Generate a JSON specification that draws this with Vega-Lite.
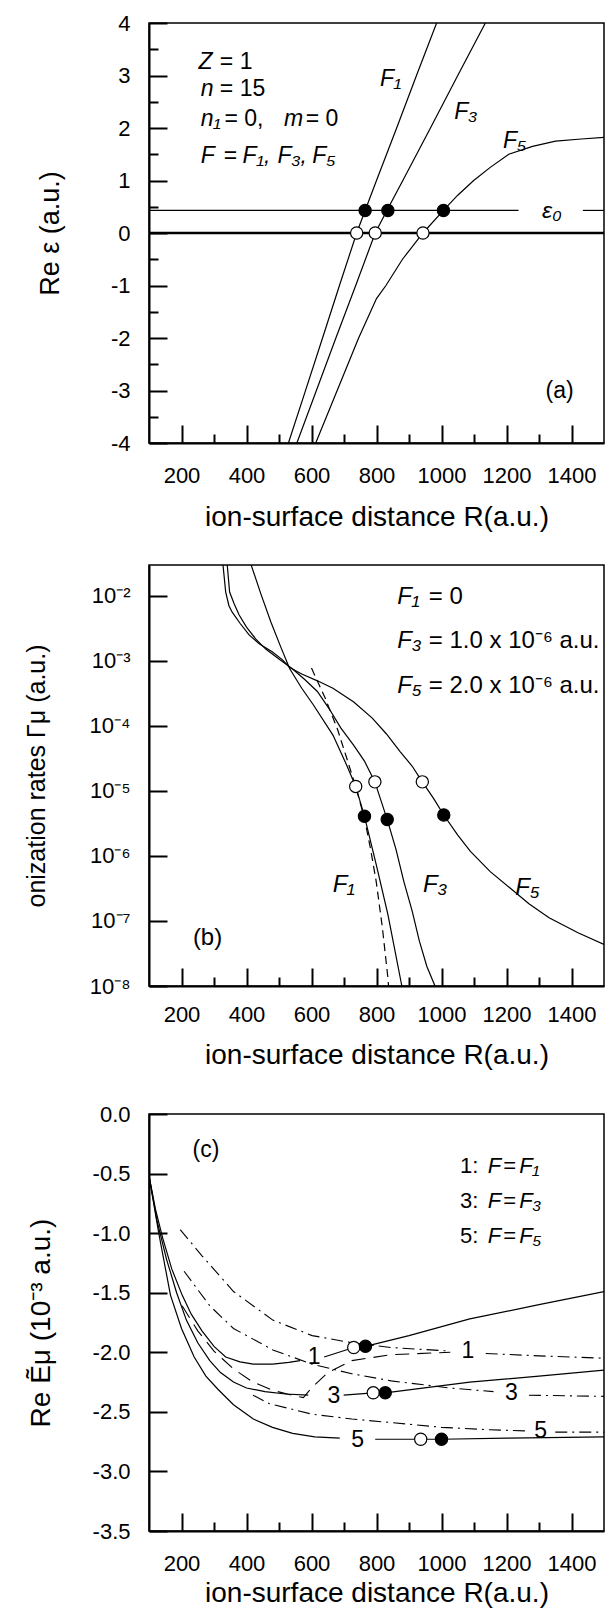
{
"$schema":"https://vega.github.io/schema/vega-lite/v6.json",
"padding":{"left":23,"top":11,"right":0,"bottom":0},
"spacing":32,
"config":{"font":"Liberation Sans","view":{"stroke":"black","strokeWidth":1.5},
"axis":{"domainColor":"black","domainWidth":2,"tickColor":"black","tickWidth":2,"labelColor":"black","titleColor":"black","labelFontSize":22,"titleFontSize":28,"titleFontWeight":"normal","grid":false,"labelFlush":false,"labelOverlap":false,"labelFont":"Liberation Sans","titleFont":"Liberation Sans"}},
"datasets":{
"a_curves":[
{"c":"F1","R":529,"v":-4},{"c":"F1","R":580,"v":-3.03},{"c":"F1","R":634,"v":-2},{"c":"F1","R":686,"v":-1},{"c":"F1","R":739,"v":0},{"c":"F1","R":765,"v":0.43},{"c":"F1","R":800,"v":1},{"c":"F1","R":862,"v":2},{"c":"F1","R":923,"v":3},{"c":"F1","R":985,"v":4},
{"c":"F3","R":555,"v":-4},{"c":"F3","R":615,"v":-3},{"c":"F3","R":675,"v":-2},{"c":"F3","R":736,"v":-1},{"c":"F3","R":796,"v":0},{"c":"F3","R":832,"v":0.43},{"c":"F3","R":881,"v":1},{"c":"F3","R":966,"v":2},{"c":"F3","R":1050,"v":3},{"c":"F3","R":1135,"v":4},
{"c":"F5","R":613,"v":-4},{"c":"F5","R":679,"v":-3},{"c":"F5","R":745,"v":-2},{"c":"F5","R":800,"v":-1.25},{"c":"F5","R":829,"v":-1},{"c":"F5","R":880,"v":-0.5},{"c":"F5","R":943,"v":0},{"c":"F5","R":1006,"v":0.43},{"c":"F5","R":1050,"v":0.72},{"c":"F5","R":1099,"v":1},{"c":"F5","R":1150,"v":1.25},{"c":"F5","R":1207,"v":1.5},{"c":"F5","R":1280,"v":1.65},{"c":"F5","R":1351,"v":1.75},{"c":"F5","R":1430,"v":1.79},{"c":"F5","R":1500,"v":1.82},
{"c":"e1","R":100,"v":0.43},{"c":"e1","R":1237,"v":0.43},{"c":"e2","R":1435,"v":0.43},{"c":"e2","R":1500,"v":0.43}
],
"a_zero":[{"c":"z","R":100,"v":0},{"c":"z","R":1500,"v":0}],
"a_pts":[{"R":739,"v":0,"f":"o"},{"R":796,"v":0,"f":"o"},{"R":943,"v":0,"f":"o"},{"R":765,"v":0.43,"f":"f"},{"R":835,"v":0.43,"f":"f"},{"R":1006,"v":0.43,"f":"f"}],
"a_ti":[{"R":252,"v":3.25,"t":"Z"},{"R":259,"v":2.74,"t":"n"},{"R":259,"v":2.18,"t":"n₁"},{"R":515,"v":2.18,"t":"m"},{"R":259,"v":1.46,"t":"F"},{"R":388,"v":1.46,"t":"F₁,"},{"R":495,"v":1.46,"t":"F₃,"},{"R":602,"v":1.46,"t":"F₅"},{"R":811,"v":2.93,"t":"F₁"},{"R":1039,"v":2.31,"t":"F₃"},{"R":1189,"v":1.76,"t":"F₅"},{"R":1309,"v":0.42,"t":"ε₀"}],
"a_tu":[{"R":318,"v":3.25,"t":"= 1"},{"R":318,"v":2.74,"t":"= 15"},{"R":332,"v":2.18,"t":"= 0,"},{"R":582,"v":2.18,"t":"= 0"},{"R":330,"v":1.46,"t":"="},{"R":1320,"v":-3.0,"t":"(a)"}],
"b_curves":[
{"c":"F1","R":405,"g":0.0398},{"c":"F1","R":414,"g":0.0302},{"c":"F1","R":445,"g":0.01047},{"c":"F1","R":475,"g":0.00398},{"c":"F1","R":505,"g":0.00166},{"c":"F1","R":533,"g":0.000759},{"c":"F1","R":570,"g":0.00038},{"c":"F1","R":605,"g":0.000214},{"c":"F1","R":666,"g":7.24e-5},{"c":"F1","R":708,"g":2.51e-5},{"c":"F1","R":736,"g":1.175e-5},{"c":"F1","R":763,"g":4.07e-6},{"c":"F1","R":799,"g":7.41e-7},{"c":"F1","R":835,"g":1.26e-7},{"c":"F1","R":878,"g":1e-8},{"c":"F1","R":885,"g":6.31e-9},
{"c":"F3","R":339,"g":0.0398},{"c":"F3","R":341,"g":0.0288},{"c":"F3","R":348,"g":0.01148},{"c":"F3","R":362,"g":0.00759},{"c":"F3","R":377,"g":0.00513},{"c":"F3","R":400,"g":0.00331},{"c":"F3","R":428,"g":0.00219},{"c":"F3","R":460,"g":0.00151},{"c":"F3","R":500,"g":0.00107},{"c":"F3","R":541,"g":0.000759},{"c":"F3","R":580,"g":0.000513},{"c":"F3","R":618,"g":0.000339},{"c":"F3","R":655,"g":0.000182},{"c":"F3","R":690,"g":9.33e-5},{"c":"F3","R":730,"g":5.01e-5},{"c":"F3","R":763,"g":2.88e-5},{"c":"F3","R":795,"g":1.38e-5},{"c":"F3","R":833,"g":3.63e-6},{"c":"F3","R":860,"g":1.26e-6},{"c":"F3","R":884,"g":4.07e-7},{"c":"F3","R":910,"g":1.41e-7},{"c":"F3","R":932,"g":4.9e-8},{"c":"F3","R":955,"g":2e-8},{"c":"F3","R":980,"g":1e-8},{"c":"F3","R":990,"g":6.31e-9},
{"c":"F5","R":326,"g":0.0398},{"c":"F5","R":328,"g":0.0288},{"c":"F5","R":336,"g":0.01148},{"c":"F5","R":346,"g":0.00708},{"c":"F5","R":356,"g":0.00562},{"c":"F5","R":380,"g":0.0038},{"c":"F5","R":408,"g":0.00251},{"c":"F5","R":440,"g":0.00182},{"c":"F5","R":479,"g":0.00138},{"c":"F5","R":510,"g":0.001047},{"c":"F5","R":533,"g":0.000794},{"c":"F5","R":570,"g":0.000631},{"c":"F5","R":620,"g":0.00049},{"c":"F5","R":666,"g":0.00038},{"c":"F5","R":730,"g":0.000234},{"c":"F5","R":787,"g":0.000132},{"c":"F5","R":830,"g":7.59e-5},{"c":"F5","R":872,"g":4.07e-5},{"c":"F5","R":910,"g":2.4e-5},{"c":"F5","R":941,"g":1.38e-5},{"c":"F5","R":975,"g":7.76e-6},{"c":"F5","R":1007,"g":4.27e-6},{"c":"F5","R":1050,"g":2.09e-6},{"c":"F5","R":1089,"g":1.175e-6},{"c":"F5","R":1150,"g":5.75e-7},{"c":"F5","R":1210,"g":3.24e-7},{"c":"F5","R":1270,"g":1.82e-7},{"c":"F5","R":1331,"g":1.12e-7},{"c":"F5","R":1420,"g":6.61e-8},{"c":"F5","R":1500,"g":4.37e-8}
],
"b_dash":[{"c":"d","R":600,"g":0.000776},{"c":"d","R":642,"g":0.000269},{"c":"d","R":680,"g":8.91e-5},{"c":"d","R":708,"g":3.24e-5},{"c":"d","R":737,"g":1.12e-5},{"c":"d","R":763,"g":3.8e-6},{"c":"d","R":782,"g":1.26e-6},{"c":"d","R":799,"g":4.07e-7},{"c":"d","R":818,"g":7.94e-8},{"c":"d","R":835,"g":1.35e-8},{"c":"d","R":840,"g":6.31e-9}],
"b_pts":[{"R":736,"g":1.175e-5,"f":"o"},{"R":795,"g":1.38e-5,"f":"o"},{"R":941,"g":1.38e-5,"f":"o"},{"R":763,"g":4.07e-6,"f":"f"},{"R":833,"g":3.63e-6,"f":"f"},{"R":1007,"g":4.27e-6,"f":"f"}],
"b_ti":[{"R":864,"g":0.00977,"t":"F₁"},{"R":864,"g":0.002,"t":"F₃"},{"R":864,"g":0.000407,"t":"F₅"},{"R":665,"g":3.63e-7,"t":"F₁"},{"R":943,"g":3.63e-7,"t":"F₃"},{"R":1227,"g":3.24e-7,"t":"F₅"}],
"b_tu":[{"R":961,"g":0.00977,"t":"= 0"},{"R":961,"g":0.002,"t":"= 1.0 x 10⁻⁶ a.u."},{"R":961,"g":0.000407,"t":"= 2.0 x 10⁻⁶ a.u."},{"R":235,"g":5.5e-8,"t":"(b)"}],
"c_solid":[
{"c":"s1a","R":100,"v":-0.52},{"c":"s1a","R":120,"v":-0.8},{"c":"s1a","R":142,"v":-1.04},{"c":"s1a","R":170,"v":-1.3},{"c":"s1a","R":202,"v":-1.52},{"c":"s1a","R":230,"v":-1.68},{"c":"s1a","R":263,"v":-1.82},{"c":"s1a","R":300,"v":-1.95},{"c":"s1a","R":336,"v":-2.04},{"c":"s1a","R":380,"v":-2.08},{"c":"s1a","R":421,"v":-2.1},{"c":"s1a","R":481,"v":-2.1},{"c":"s1a","R":530,"v":-2.085},{"c":"s1a","R":565,"v":-2.07},
{"c":"s1b","R":639,"v":-2.04},{"c":"s1b","R":730,"v":-1.96},{"c":"s1b","R":766,"v":-1.95},{"c":"s1b","R":900,"v":-1.86},{"c":"s1b","R":1087,"v":-1.72},{"c":"s1b","R":1300,"v":-1.6},{"c":"s1b","R":1500,"v":-1.49},
{"c":"s3a","R":100,"v":-0.52},{"c":"s3a","R":125,"v":-0.9},{"c":"s3a","R":154,"v":-1.22},{"c":"s3a","R":185,"v":-1.5},{"c":"s3a","R":215,"v":-1.73},{"c":"s3a","R":250,"v":-1.92},{"c":"s3a","R":287,"v":-2.07},{"c":"s3a","R":320,"v":-2.17},{"c":"s3a","R":360,"v":-2.25},{"c":"s3a","R":400,"v":-2.3},{"c":"s3a","R":457,"v":-2.33},{"c":"s3a","R":520,"v":-2.35},{"c":"s3a","R":590,"v":-2.36},
{"c":"s3b","R":699,"v":-2.36},{"c":"s3b","R":790,"v":-2.34},{"c":"s3b","R":827,"v":-2.34},{"c":"s3b","R":1087,"v":-2.25},{"c":"s3b","R":1300,"v":-2.2},{"c":"s3b","R":1500,"v":-2.15},
{"c":"s5a","R":100,"v":-0.52},{"c":"s5a","R":130,"v":-1.0},{"c":"s5a","R":166,"v":-1.52},{"c":"s5a","R":200,"v":-1.8},{"c":"s5a","R":239,"v":-2.04},{"c":"s5a","R":275,"v":-2.2},{"c":"s5a","R":312,"v":-2.31},{"c":"s5a","R":360,"v":-2.44},{"c":"s5a","R":421,"v":-2.56},{"c":"s5a","R":480,"v":-2.63},{"c":"s5a","R":542,"v":-2.68},{"c":"s5a","R":610,"v":-2.71},{"c":"s5a","R":687,"v":-2.72},
{"c":"s5b","R":796,"v":-2.73},{"c":"s5b","R":936,"v":-2.73},{"c":"s5b","R":1000,"v":-2.73},{"c":"s5b","R":1200,"v":-2.72},{"c":"s5b","R":1500,"v":-2.71}
],
"c_dd":[
{"c":"d1a","R":196,"v":-0.97},{"c":"d1a","R":263,"v":-1.19},{"c":"d1a","R":360,"v":-1.49},{"c":"d1a","R":481,"v":-1.73},{"c":"d1a","R":602,"v":-1.86},{"c":"d1a","R":724,"v":-1.92},{"c":"d1a","R":845,"v":-1.96},{"c":"d1a","R":1027,"v":-1.99},
{"c":"d1b","R":1136,"v":-2.01},{"c":"d1b","R":1300,"v":-2.03},{"c":"d1b","R":1500,"v":-2.05},
{"c":"d3a","R":208,"v":-1.32},{"c":"d3a","R":287,"v":-1.61},{"c":"d3a","R":360,"v":-1.8},{"c":"d3a","R":481,"v":-1.98},{"c":"d3a","R":602,"v":-2.1},{"c":"d3a","R":724,"v":-2.18},{"c":"d3a","R":845,"v":-2.24},{"c":"d3a","R":1027,"v":-2.3},{"c":"d3a","R":1160,"v":-2.33},
{"c":"d3b","R":1269,"v":-2.36},{"c":"d3b","R":1500,"v":-2.37},
{"c":"d5a","R":420,"v":-2.36},{"c":"d5a","R":469,"v":-2.43},{"c":"d5a","R":602,"v":-2.52},{"c":"d5a","R":724,"v":-2.56},{"c":"d5a","R":845,"v":-2.59},{"c":"d5a","R":1000,"v":-2.63},{"c":"d5a","R":1148,"v":-2.65},{"c":"d5a","R":1260,"v":-2.66},
{"c":"d5b","R":1350,"v":-2.67},{"c":"d5b","R":1500,"v":-2.67}
],
"c_dash":[
{"c":"k","R":202,"v":-1.61},{"c":"k","R":250,"v":-1.82},{"c":"k","R":300,"v":-1.99},{"c":"k","R":360,"v":-2.14},{"c":"k","R":420,"v":-2.25},{"c":"k","R":481,"v":-2.32},{"c":"k","R":540,"v":-2.36},{"c":"k","R":575,"v":-2.38},{"c":"k","R":600,"v":-2.3},{"c":"k","R":650,"v":-2.17},{"c":"k","R":724,"v":-2.07},{"c":"k","R":845,"v":-2.02},{"c":"k","R":1027,"v":-2.0}
],
"c_pts":[{"R":730,"v":-1.96,"f":"o"},{"R":790,"v":-2.34,"f":"o"},{"R":936,"v":-2.73,"f":"o"},{"R":766,"v":-1.95,"f":"f"},{"R":827,"v":-2.34,"f":"f"},{"R":1000,"v":-2.73,"f":"f"}],
"c_tu":[{"R":608,"v":-2.04,"t":"1"},{"R":669,"v":-2.37,"t":"3"},{"R":742,"v":-2.74,"t":"5"},{"R":1081,"v":-1.99,"t":"1"},{"R":1215,"v":-2.34,"t":"3"},{"R":1305,"v":-2.66,"t":"5"},{"R":275,"v":-0.3,"t":"(c)"}],
"c_leg":[{"R":1057,"v":-0.44,"t":"1:"},{"R":1057,"v":-0.73,"t":"3:"},{"R":1057,"v":-1.02,"t":"5:"}],
"c_legi":[{"R":1142,"v":-0.44,"t":"F"},{"R":1142,"v":-0.73,"t":"F"},{"R":1142,"v":-1.02,"t":"F"},{"R":1239,"v":-0.44,"t":"F₁"},{"R":1239,"v":-0.73,"t":"F₃"},{"R":1239,"v":-1.02,"t":"F₅"}],
"c_legu":[{"R":1190,"v":-0.44,"t":"="},{"R":1190,"v":-0.73,"t":"="},{"R":1190,"v":-1.02,"t":"="}]
},
"vconcat":[
{"width":455,"height":420,
"encoding":{
"x":{"field":"R","type":"quantitative","scale":{"domain":[100,1500],"nice":false,"zero":false},
"axis":{"values":[200,300,400,500,600,700,800,900,1000,1100,1200,1300,1400],"format":"d","tickSize":{"condition":{"test":"datum.value % 200 === 0","value":-18},"value":-9},"labelExpr":"datum.value % 200 === 0 ? datum.label : ''","labelPadding":40,"title":"ion-surface distance  R(a.u.)","titlePadding":8}},
"y":{"field":"v","type":"quantitative","scale":{"domain":[-4,4],"nice":false,"zero":false},
"axis":{"values":[-4,-3.5,-3,-2.5,-2,-1.5,-1,-0.5,0,0.5,1,1.5,2,2.5,3,3.5,4],"tickSize":{"condition":{"test":"datum.value % 1 === 0","value":-18},"value":-9},"labelExpr":"datum.value % 1 === 0 ? replace(format(datum.value,'d'),'−','-') : ''","labelPadding":37,"title":"Re ε (a.u.)","titleFontSize":27,"titleX":-85}}},
"layer":[
{"data":{"name":"a_curves"},"mark":{"type":"line","color":"black","strokeWidth":1.2,"clip":true},"encoding":{"detail":{"field":"c"}}},
{"data":{"name":"a_zero"},"mark":{"type":"line","color":"black","strokeWidth":2.6,"clip":true},"encoding":{"detail":{"field":"c"}}},
{"data":{"name":"a_pts"},"mark":{"type":"point","shape":"circle","size":150,"stroke":"black","strokeWidth":1.2,"opacity":1,"filled":false},"encoding":{"fill":{"field":"f","type":"nominal","scale":{"domain":["o","f"],"range":["white","black"]},"legend":null}}},
{"data":{"name":"a_ti"},"mark":{"type":"text","align":"left","baseline":"middle","fontSize":23,"fontStyle":"italic","color":"black"},"encoding":{"text":{"field":"t"}}},
{"data":{"name":"a_tu"},"mark":{"type":"text","align":"left","baseline":"middle","fontSize":23,"color":"black"},"encoding":{"text":{"field":"t"}}}
]},
{"width":455,"height":421,
"encoding":{
"x":{"field":"R","type":"quantitative","scale":{"domain":[100,1500],"nice":false,"zero":false},
"axis":{"values":[200,300,400,500,600,700,800,900,1000,1100,1200,1300,1400],"format":"d","tickSize":{"condition":{"test":"datum.value % 200 === 0","value":-18},"value":-9},"labelExpr":"datum.value % 200 === 0 ? datum.label : ''","labelPadding":36,"title":"ion-surface distance  R(a.u.)","titlePadding":7}},
"y":{"field":"g","type":"quantitative","scale":{"type":"log","domain":[1e-8,0.0299],"nice":false},
"axis":{"values":[1e-8,1e-7,1e-6,1e-5,1e-4,1e-3,1e-2],"tickSize":-18,"labelExpr":"'10' + ['⁰','⁻¹','⁻²','⁻³','⁻⁴','⁻⁵','⁻⁶','⁻⁷','⁻⁸'][-round(log(datum.value)/LN10)]","labelPadding":37,"title":"onization rates Γμ (a.u.)","titleFontSize":25,"titleX":-100}}},
"layer":[
{"data":{"name":"b_curves"},"mark":{"type":"line","color":"black","strokeWidth":1.2,"clip":true},"encoding":{"detail":{"field":"c"}}},
{"data":{"name":"b_dash"},"mark":{"type":"line","color":"black","strokeWidth":1.2,"strokeDash":[8,5],"clip":true},"encoding":{"detail":{"field":"c"}}},
{"data":{"name":"b_pts"},"mark":{"type":"point","shape":"circle","size":150,"stroke":"black","strokeWidth":1.2,"opacity":1,"filled":false},"encoding":{"fill":{"field":"f","type":"nominal","scale":{"domain":["o","f"],"range":["white","black"]},"legend":null}}},
{"data":{"name":"b_ti"},"mark":{"type":"text","align":"left","baseline":"middle","fontSize":24,"fontStyle":"italic","color":"black"},"encoding":{"text":{"field":"t"}}},
{"data":{"name":"b_tu"},"mark":{"type":"text","align":"left","baseline":"middle","fontSize":24,"color":"black"},"encoding":{"text":{"field":"t"}}}
]},
{"width":455,"height":417,
"encoding":{
"x":{"field":"R","type":"quantitative","scale":{"domain":[100,1500],"nice":false,"zero":false},
"axis":{"values":[200,300,400,500,600,700,800,900,1000,1100,1200,1300,1400],"format":"d","tickSize":{"condition":{"test":"datum.value % 200 === 0","value":-18},"value":-9},"labelExpr":"datum.value % 200 === 0 ? datum.label : ''","labelPadding":40,"title":"ion-surface distance  R(a.u.)","titlePadding":-4}},
"y":{"field":"v","type":"quantitative","scale":{"domain":[-3.5,0],"nice":false,"zero":false},
"axis":{"values":[-3.5,-3,-2.5,-2,-1.5,-1,-0.5,0],"format":".1f","tickSize":-18,"labelExpr":"replace(datum.label,'−','-')","labelPadding":37,"title":"Re Ẽμ (10⁻³ a.u.)","titleX":-94}}},
"layer":[
{"data":{"name":"c_solid"},"mark":{"type":"line","color":"black","strokeWidth":1.2,"clip":true},"encoding":{"detail":{"field":"c"}}},
{"data":{"name":"c_dd"},"mark":{"type":"line","color":"black","strokeWidth":1.1,"strokeDash":[12,5,2,5],"clip":true},"encoding":{"detail":{"field":"c"}}},
{"data":{"name":"c_dash"},"mark":{"type":"line","color":"black","strokeWidth":1.1,"strokeDash":[14,8],"clip":true},"encoding":{"detail":{"field":"c"}}},
{"data":{"name":"c_pts"},"mark":{"type":"point","shape":"circle","size":150,"stroke":"black","strokeWidth":1.2,"opacity":1,"filled":false},"encoding":{"fill":{"field":"f","type":"nominal","scale":{"domain":["o","f"],"range":["white","black"]},"legend":null}}},
{"data":{"name":"c_tu"},"mark":{"type":"text","align":"center","baseline":"middle","fontSize":23,"color":"black"},"encoding":{"text":{"field":"t"}}},
{"data":{"name":"c_leg"},"mark":{"type":"text","align":"left","baseline":"middle","fontSize":22,"color":"black"},"encoding":{"text":{"field":"t"}}},
{"data":{"name":"c_legi"},"mark":{"type":"text","align":"left","baseline":"middle","fontSize":22,"fontStyle":"italic","color":"black"},"encoding":{"text":{"field":"t"}}},
{"data":{"name":"c_legu"},"mark":{"type":"text","align":"left","baseline":"middle","fontSize":22,"color":"black"},"encoding":{"text":{"field":"t"}}}
]}
]
}
